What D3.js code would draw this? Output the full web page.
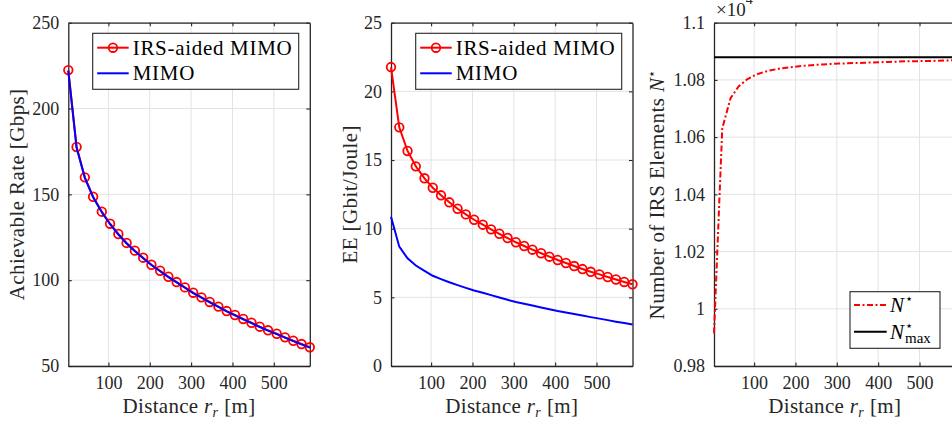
<!DOCTYPE html>
<html>
<head>
<meta charset="utf-8">
<script src="https://cdn.jsdelivr.net/npm/d3@7"></script>
<style>
  html, body { margin: 0; padding: 0; background: #fff; }
  svg { display: block; }
</style>
</head>
<body>
<svg id="fig" width="952" height="425"></svg>
<script>
// Distance r_r [m] of each evaluated point
const distance = [3, 23, 43, 63, 84, 104, 124, 144, 164, 184, 204, 225, 245, 265, 285,
                  305, 325, 345, 366, 386, 406, 426, 446, 466, 486, 507, 527, 547, 567, 587];

// Achievable rate [Gbps]
const rateIRS  = [222.4, 177.6, 159.9, 148.6, 139.9, 132.9, 126.9, 121.7, 117.2, 113.1,
                  109.0, 105.5, 102.0, 98.9, 95.8, 92.7, 90.0, 87.3, 84.6, 82.0,
                  79.7, 77.4, 75.2, 72.9, 70.8, 68.8, 66.7, 64.7, 62.8, 60.9];
const rateMIMO = [221.9, 177.3, 159.6, 148.3, 139.6, 132.6, 126.6, 121.4, 116.9, 112.8,
                  108.8, 105.2, 101.8, 98.7, 95.6, 92.5, 89.8, 87.1, 84.4, 81.8,
                  79.5, 77.2, 75.0, 72.7, 70.6, 68.6, 66.5, 64.5, 62.6, 60.7];

// Energy efficiency [Gbit/Joule]
const eeIRS  = [21.77, 17.38, 15.66, 14.54, 13.67, 12.98, 12.43, 11.92, 11.45, 11.04,
                10.65, 10.29, 9.95, 9.63, 9.32, 9.01, 8.74, 8.47, 8.21, 7.96,
                7.72, 7.50, 7.28, 7.06, 6.86, 6.67, 6.48, 6.30, 6.12, 5.95];
const eeMIMO = [10.87, 8.69, 7.84, 7.32, 6.93, 6.57, 6.33, 6.10, 5.89, 5.69,
                5.50, 5.33, 5.16, 4.99, 4.82, 4.66, 4.53, 4.40, 4.26, 4.13,
                4.00, 3.89, 3.78, 3.67, 3.56, 3.45, 3.34, 3.23, 3.13, 3.02];

// Optimal number of IRS elements and its upper bound
const nStar = [9914, 10631, 10736, 10778, 10803, 10818, 10828, 10835, 10840, 10844,
               10847, 10850, 10852, 10854, 10856, 10857, 10858, 10859, 10860, 10861,
               10862, 10863, 10864, 10865, 10865, 10866, 10866, 10867, 10868, 10869];
const nMax = 10879;

// Tick values
const xTicks      = [100, 200, 300, 400, 500];
const rateTicks   = [50, 100, 150, 200, 250];
const eeTicks     = [0, 5, 10, 15, 20, 25];
const nTicks      = [9800, 10000, 10200, 10400, 10600, 10800, 11000];
const nTickLabels = ['0.98', '1', '1.02', '1.04', '1.06', '1.08', '1.1'];

const FONT = "'Liberation Serif', 'DejaVu Serif', serif";
const RED = '#ff0000', BLUE = '#0000ff', AX = '#262626', GRID = '#e3e3e3';
const DASHDOT = '6,2.5,2,2.5';
const MARK_R = 4.3, MARK_W = 1.8;
const svg = d3.select('#fig').style('font-family', FONT);
const plotW = 241.5, plotTop = 22.7, plotBottom = 366;
const panelLeft = [68.3, 391, 714];
const tickLen = 3.5;

// text helper: every label carries its font inline
function txt(g, size) {
  return g.append('text').style('font-family', FONT).style('font-size', size + 'px')
    .attr('fill', AX);
}

function makePanel(i, yDomain, yTicks, yLabels) {
  const x0 = panelLeft[i];
  const x = d3.scaleLinear().domain([3, 587]).range([x0, x0 + plotW]);
  const y = d3.scaleLinear().domain(yDomain).range([plotBottom, plotTop]);
  const g = svg.append('g');

  // grid
  g.append('g').selectAll('line').data(xTicks).join('line')
    .attr('x1', d => x(d)).attr('x2', d => x(d))
    .attr('y1', plotTop).attr('y2', plotBottom)
    .attr('stroke', GRID).attr('stroke-width', 1);
  g.append('g').selectAll('line').data(yTicks).join('line')
    .attr('x1', x0).attr('x2', x0 + plotW)
    .attr('y1', d => y(d)).attr('y2', d => y(d))
    .attr('stroke', GRID).attr('stroke-width', 1);

  // axes: bottom/left with labels, top/right closing the box with inward ticks
  const fmt = (d, k) => yLabels ? yLabels[k] : String(d);
  const axB = d3.axisBottom(x).tickValues(xTicks).tickSizeInner(-tickLen).tickSizeOuter(0).tickPadding(10);
  const axT = d3.axisTop(x).tickValues(xTicks).tickSizeInner(-tickLen).tickSizeOuter(0).tickFormat('');
  const axL = d3.axisLeft(y).tickValues(yTicks).tickSizeInner(-tickLen).tickSizeOuter(0).tickPadding(9)
    .tickFormat(fmt);
  const axR = d3.axisRight(y).tickValues(yTicks).tickSizeInner(-tickLen).tickSizeOuter(0).tickFormat('');

  const style = sel => {
    sel.attr('font-family', null).attr('font-size', null);
    sel.selectAll('path').attr('stroke', AX).attr('stroke-width', 1.3);
    sel.selectAll('line').attr('stroke', AX).attr('stroke-width', 1.1);
    sel.selectAll('text').style('font-family', FONT).style('font-size', '18px').attr('fill', AX);
  };
  g.append('g').attr('transform', `translate(0,${plotBottom})`).call(axB).call(style);
  g.append('g').attr('transform', `translate(0,${plotTop})`).call(axT).call(style);
  g.append('g').attr('transform', `translate(${x0},0)`).call(axL).call(style);
  g.append('g').attr('transform', `translate(${x0 + plotW},0)`).call(axR).call(style);

  // x label
  const xl = txt(g, 21).attr('x', x0 + plotW / 2).attr('y', 413)
    .attr('text-anchor', 'middle').style('letter-spacing', '0.3px');
  xl.append('tspan').text('Distance ');
  xl.append('tspan').style('font-style', 'italic').text('r');
  xl.append('tspan').style('font-style', 'italic').style('font-size', '14px').attr('dy', 4).text('r');
  xl.append('tspan').attr('dy', -4).attr('dx', 6).text('[m]');

  return { g, x, y, x0 };
}

function lineOf(p, xs, ys) {
  return d3.line().x((d, k) => p.x(xs[k])).y(d => p.y(d))(ys);
}

function legendBox(g, bx, by, bw, bh) {
  g.append('rect').attr('x', bx).attr('y', by).attr('width', bw).attr('height', bh)
    .attr('fill', '#fff').attr('stroke', AX).attr('stroke-width', 1.1);
}

function twoSeriesLegend(p, bx) {
  const g = p.g;
  legendBox(g, bx, 33.3, 206, 56);
  const lx1 = bx + 4.5, lx2 = bx + 36;
  const r1 = 47.7, r2 = 73.3;
  g.append('line').attr('x1', lx1).attr('x2', lx2).attr('y1', r1).attr('y2', r1)
    .attr('stroke', RED).attr('stroke-width', 2);
  g.append('circle').attr('cx', (lx1 + lx2) / 2).attr('cy', r1).attr('r', MARK_R)
    .attr('fill', 'none').attr('stroke', RED).attr('stroke-width', MARK_W);
  g.append('line').attr('x1', lx1).attr('x2', lx2).attr('y1', r2).attr('y2', r2)
    .attr('stroke', BLUE).attr('stroke-width', 2);
  txt(g, 21).attr('x', lx2 + 4).attr('y', r1 + 7).attr('fill', '#000')
    .style('letter-spacing', '0.7px').text('IRS-aided MIMO');
  txt(g, 21).attr('x', lx2 + 4).attr('y', r2 + 7).attr('fill', '#000')
    .style('letter-spacing', '0.7px').text('MIMO');
}

function markers(p, ys) {
  p.g.append('g').selectAll('circle').data(ys).join('circle')
    .attr('cx', (d, k) => p.x(distance[k])).attr('cy', d => p.y(d)).attr('r', MARK_R)
    .attr('fill', 'none').attr('stroke', RED).attr('stroke-width', MARK_W);
}

// ---------- Panel 1: achievable rate ----------
const p1 = makePanel(0, [50, 250], rateTicks);
p1.g.append('path').attr('d', lineOf(p1, distance, rateIRS))
  .attr('fill', 'none').attr('stroke', RED).attr('stroke-width', 2);
markers(p1, rateIRS);
p1.g.append('path').attr('d', lineOf(p1, distance, rateMIMO))
  .attr('fill', 'none').attr('stroke', BLUE).attr('stroke-width', 2);
txt(p1.g, 21).attr('transform', `translate(24,${(plotTop + plotBottom) / 2}) rotate(-90)`)
  .attr('text-anchor', 'middle').style('letter-spacing', '0.4px')
  .text('Achievable Rate [Gbps]');
twoSeriesLegend(p1, 92.7);

// ---------- Panel 2: energy efficiency ----------
const p2 = makePanel(1, [0, 25], eeTicks);
p2.g.append('path').attr('d', lineOf(p2, distance, eeIRS))
  .attr('fill', 'none').attr('stroke', RED).attr('stroke-width', 2);
markers(p2, eeIRS);
p2.g.append('path').attr('d', lineOf(p2, distance, eeMIMO))
  .attr('fill', 'none').attr('stroke', BLUE).attr('stroke-width', 2);
txt(p2.g, 21).attr('transform', `translate(356.5,${(plotTop + plotBottom) / 2}) rotate(-90)`)
  .attr('text-anchor', 'middle').style('letter-spacing', '0.4px')
  .text('EE [Gbit/Joule]');
twoSeriesLegend(p2, 415.7);

// ---------- Panel 3: number of IRS elements ----------
const p3 = makePanel(2, [9800, 11000], nTicks, nTickLabels);
p3.g.append('path').attr('d', lineOf(p3, distance, nStar))
  .attr('fill', 'none').attr('stroke', RED).attr('stroke-width', 2)
  .attr('stroke-dasharray', DASHDOT);
p3.g.append('line')
  .attr('x1', p3.x(3)).attr('x2', p3.x(587))
  .attr('y1', p3.y(nMax)).attr('y2', p3.y(nMax))
  .attr('stroke', '#000').attr('stroke-width', 2);

const yl3 = txt(p3.g, 21).attr('transform', `translate(664,${(plotTop + plotBottom) / 2}) rotate(-90)`)
  .attr('text-anchor', 'middle').style('letter-spacing', '0.4px');
yl3.append('tspan').text('Number of IRS Elements ');
yl3.append('tspan').style('font-style', 'italic').text('N');
yl3.append('tspan').style('font-size', '13px').attr('dy', -8).text('⋆');

// exponent of the y axis, sitting at the top edge above the axis
const ex = txt(p3.g, 19).attr('x', 716).attr('y', 16);
ex.append('tspan').text('×10');
ex.append('tspan').style('font-size', '14px').attr('dy', -12).text('4');

// legend
legendBox(p3.g, 850, 291.7, 90, 56.6);
const lr1 = 305, lr2 = 331.7;
p3.g.append('line').attr('x1', 854).attr('x2', 886.7).attr('y1', lr1).attr('y2', lr1)
  .attr('stroke', RED).attr('stroke-width', 2).attr('stroke-dasharray', DASHDOT);
p3.g.append('line').attr('x1', 854).attr('x2', 886.7).attr('y1', lr2).attr('y2', lr2)
  .attr('stroke', '#000').attr('stroke-width', 2);
const l1 = txt(p3.g, 21).attr('x', 890).attr('y', lr1 + 7).attr('fill', '#000');
l1.append('tspan').style('font-style', 'italic').text('N');
l1.append('tspan').style('font-size', '13px').attr('dx', 1).attr('dy', -9).text('⋆');
const l2 = txt(p3.g, 21).attr('x', 890).attr('y', lr2 + 7).attr('fill', '#000');
l2.append('tspan').style('font-style', 'italic').text('N');
const star2 = l2.append('tspan').style('font-size', '13px').attr('dx', 1).attr('dy', -9).text('⋆');
const starW = star2.node().getComputedTextLength();
l2.append('tspan').style('font-size', '15px').attr('dx', -starW).attr('dy', 13).text('max');
</script>
</body>
</html>
